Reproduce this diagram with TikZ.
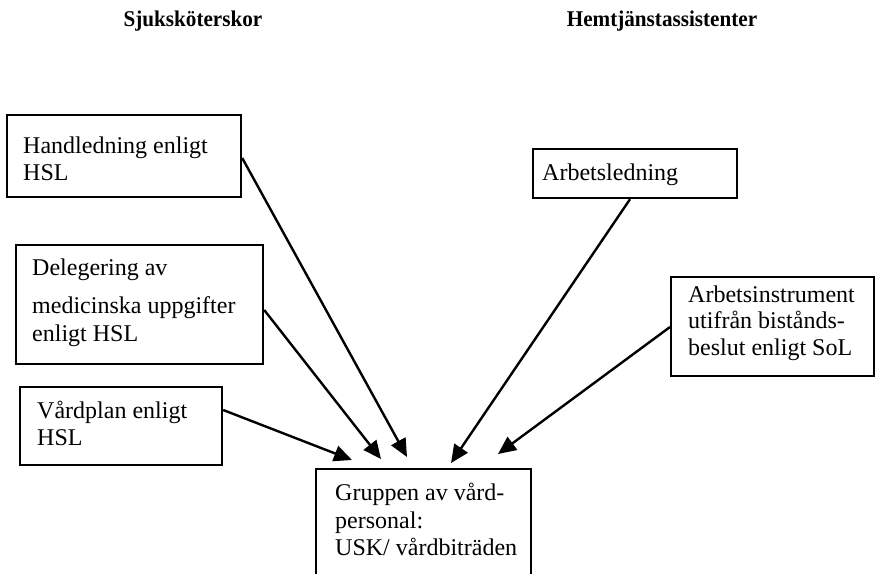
\documentclass[tikz,border=0pt]{standalone}
\usepackage{fontspec}
\setmainfont{Liberation Serif}
\usetikzlibrary{arrows.meta}
\tikzset{
  box/.style={draw, line width=2.2pt, inner sep=0pt, anchor=north west},
  txt/.style={inner sep=0pt, anchor=north west, align=left, font=\fontsize{24}{27.5}\selectfont},
  head/.style={inner sep=0pt, anchor=base, font=\fontsize{22.5}{24}\selectfont\bfseries},
  arr/.style={line width=2.4pt, -{Triangle[length=18pt,width=16pt]}}
}
\begin{document}
\begin{tikzpicture}[x=1pt,y=-1pt]
\clip (0,0) rectangle (875,573);
\fill[white] (0,0) rectangle (875,573);
% headings
\node[head] (hs) at (193,26) {\scalebox{0.94}[1]{Sjuksköterskor}};
\node[head] (hh) at (662,26) {\scalebox{0.94}[1]{Hemtjänstassistenter}};
% boxes
\node[box, minimum width=234pt, minimum height=82pt] (h) at (6,114) {};
\node[box, minimum width=247pt, minimum height=119pt] (d) at (15,244) {};
\node[box, minimum width=202pt, minimum height=78pt] (v) at (19,386) {};
\node[box, minimum width=204pt, minimum height=49pt] (a) at (532,148) {};
\node[box, minimum width=203pt, minimum height=99pt] (i) at (670,276) {};
\node[box, minimum width=215pt, minimum height=150pt] (g) at (315,468) {};
% texts
\node[txt] (ht) at (23,136.6) {Handledning enligt\\HSL};
\node[txt, font=\fontsize{24}{28.5}\selectfont] (dt) at (32,258.6) {Delegering av\\[9.5pt]medicinska uppgifter\\enligt HSL};
\node[txt, font=\fontsize{24}{27}\selectfont] (vt) at (37,401) {Vårdplan enligt\\HSL};
\node[txt] (at) at (542,163.6) {Arbetsledning};
\node[txt, font=\fontsize{24}{26.5}\selectfont] (it) at (688,285.6) {Arbetsinstrument\\utifrån bistånds-\\beslut enligt SoL};
\node[txt] (gt) at (335,483) {Gruppen av vård-\\personal:\\USK/ vårdbiträden};
% arrow tips
\coordinate (t1) at (352,460);
\coordinate (t2) at (381,459);
\coordinate (t3) at (407,457);
\coordinate (t4) at (451,463);
\coordinate (t5) at (498,454);
% connectors
\draw[arr] (v.east |- 0,410) -- (t1);
\draw[arr] (d.east |- 0,310) -- (t2);
\draw[arr] (h.east |- 0,158) -- (t3);
\draw[arr] (a.south -| 630,0) -- (t4);
\draw[arr] (i.west |- 0,327) -- (t5);
\end{tikzpicture}
\end{document}
